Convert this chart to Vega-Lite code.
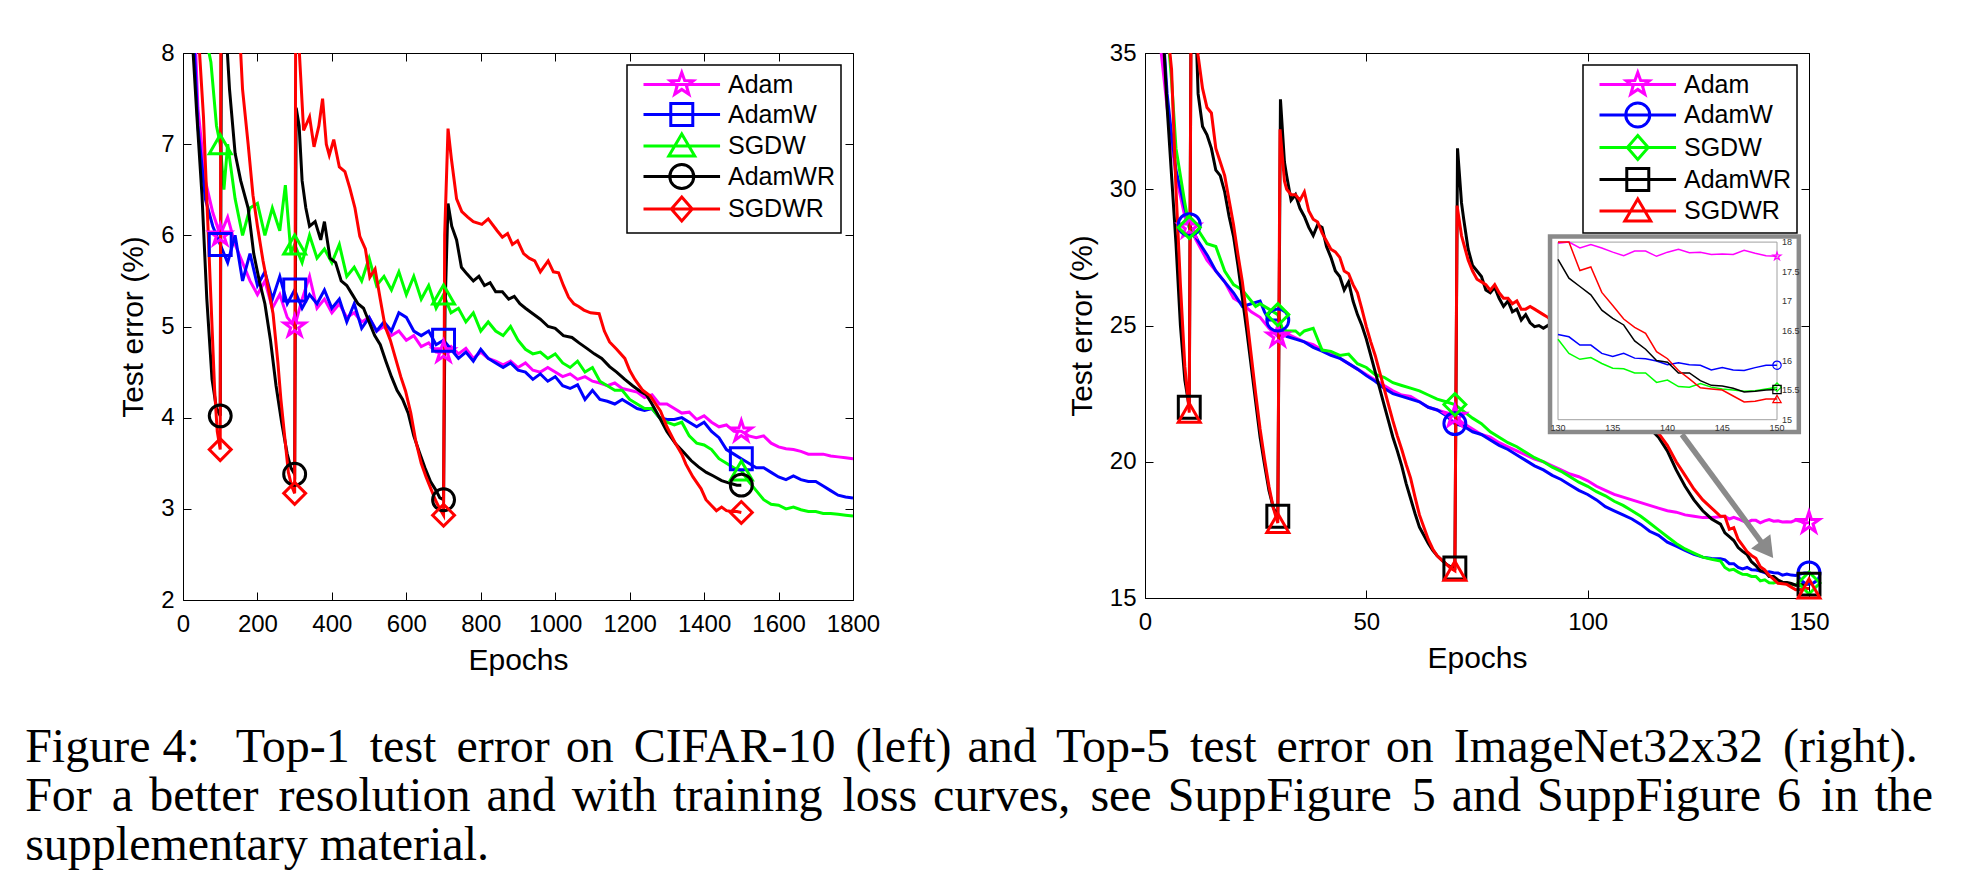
{
 "$schema": "https://vega.github.io/schema/vega-lite/v6.json",
 "background": "white",
 "padding": {"left": 25, "top": 40, "right": 5, "bottom": 5},
 "autosize": {"type": "pad"},
 "title": {
  "text": ["Figure 4:\u00a0\u00a0\u00a0Top-1\u200a\u200a test\u200a\u200a error\u200a on\u200a\u200a CIFAR-10\u200a\u200a (left)\u200a and\u200a\u200a Top-5\u200a\u200a test\u200a\u200a error\u200a on\u200a\u200a ImageNet32x32\u200a\u200a (right).", "For\u200a\u200a a\u200a better\u200a\u200a resolution\u200a and\u200a with\u200a training\u200a\u200a loss\u200a curves,\u200a\u200a see\u200a SuppFigure\u200a\u200a 5\u200a and\u200a SuppFigure\u200a 6\u200a\u200a in\u200a the", "supplementary material."],
  "orient": "bottom", "anchor": "start", "offset": 48, "dx": -93,
  "font": "Liberation Serif", "fontSize": 48, "fontWeight": "normal", "color": "black", "lineHeight": 49
 },
 "datasets": {
  "cifar": [
{"opt":"Adam","epoch":0,"err":12},{"opt":"Adam","epoch":20,"err":9.5},{"opt":"Adam","epoch":40,"err":7.4},{"opt":"Adam","epoch":60,"err":6.6},{"opt":"Adam","epoch":80,"err":6.25},{"opt":"Adam","epoch":100,"err":6.0},{"opt":"Adam","epoch":120,"err":6.2},{"opt":"Adam","epoch":140,"err":5.9},{"opt":"Adam","epoch":160,"err":5.7},{"opt":"Adam","epoch":180,"err":5.5},{"opt":"Adam","epoch":200,"err":5.35},{"opt":"Adam","epoch":220,"err":5.5},{"opt":"Adam","epoch":240,"err":5.2},{"opt":"Adam","epoch":260,"err":5.35},{"opt":"Adam","epoch":280,"err":5.1},{"opt":"Adam","epoch":300,"err":5.0},{"opt":"Adam","epoch":320,"err":5.3},{"opt":"Adam","epoch":340,"err":5.55},{"opt":"Adam","epoch":360,"err":5.2},{"opt":"Adam","epoch":380,"err":5.3},{"opt":"Adam","epoch":400,"err":5.15},{"opt":"Adam","epoch":420,"err":5.25},{"opt":"Adam","epoch":440,"err":5.1},{"opt":"Adam","epoch":460,"err":5.15},{"opt":"Adam","epoch":480,"err":5.05},{"opt":"Adam","epoch":500,"err":5.1},{"opt":"Adam","epoch":520,"err":4.95},{"opt":"Adam","epoch":540,"err":5.0},{"opt":"Adam","epoch":560,"err":4.9},{"opt":"Adam","epoch":580,"err":4.95},{"opt":"Adam","epoch":600,"err":4.85},{"opt":"Adam","epoch":620,"err":4.9},{"opt":"Adam","epoch":640,"err":4.78},{"opt":"Adam","epoch":660,"err":4.82},{"opt":"Adam","epoch":680,"err":4.72},{"opt":"Adam","epoch":700,"err":4.72},{"opt":"Adam","epoch":720,"err":4.78},{"opt":"Adam","epoch":740,"err":4.7},{"opt":"Adam","epoch":760,"err":4.76},{"opt":"Adam","epoch":780,"err":4.65},{"opt":"Adam","epoch":800,"err":4.72},{"opt":"Adam","epoch":820,"err":4.65},{"opt":"Adam","epoch":840,"err":4.62},{"opt":"Adam","epoch":860,"err":4.58},{"opt":"Adam","epoch":880,"err":4.62},{"opt":"Adam","epoch":900,"err":4.55},{"opt":"Adam","epoch":920,"err":4.6},{"opt":"Adam","epoch":940,"err":4.52},{"opt":"Adam","epoch":960,"err":4.5},{"opt":"Adam","epoch":980,"err":4.55},{"opt":"Adam","epoch":1000,"err":4.5},{"opt":"Adam","epoch":1020,"err":4.45},{"opt":"Adam","epoch":1040,"err":4.48},{"opt":"Adam","epoch":1060,"err":4.42},{"opt":"Adam","epoch":1080,"err":4.45},{"opt":"Adam","epoch":1100,"err":4.4},{"opt":"Adam","epoch":1120,"err":4.38},{"opt":"Adam","epoch":1140,"err":4.35},{"opt":"Adam","epoch":1160,"err":4.38},{"opt":"Adam","epoch":1180,"err":4.32},{"opt":"Adam","epoch":1200,"err":4.3},{"opt":"Adam","epoch":1220,"err":4.28},{"opt":"Adam","epoch":1240,"err":4.22},{"opt":"Adam","epoch":1260,"err":4.25},{"opt":"Adam","epoch":1280,"err":4.15},{"opt":"Adam","epoch":1300,"err":4.15},{"opt":"Adam","epoch":1320,"err":4.1},{"opt":"Adam","epoch":1340,"err":4.05},{"opt":"Adam","epoch":1360,"err":4.06},{"opt":"Adam","epoch":1380,"err":3.98},{"opt":"Adam","epoch":1400,"err":4.02},{"opt":"Adam","epoch":1420,"err":3.95},{"opt":"Adam","epoch":1440,"err":3.9},{"opt":"Adam","epoch":1460,"err":3.92},{"opt":"Adam","epoch":1480,"err":3.85},{"opt":"Adam","epoch":1500,"err":3.85},{"opt":"Adam","epoch":1520,"err":3.8},{"opt":"Adam","epoch":1540,"err":3.78},{"opt":"Adam","epoch":1560,"err":3.8},{"opt":"Adam","epoch":1580,"err":3.72},{"opt":"Adam","epoch":1600,"err":3.68},{"opt":"Adam","epoch":1620,"err":3.66},{"opt":"Adam","epoch":1640,"err":3.65},{"opt":"Adam","epoch":1660,"err":3.63},{"opt":"Adam","epoch":1680,"err":3.6},{"opt":"Adam","epoch":1700,"err":3.6},{"opt":"Adam","epoch":1720,"err":3.6},{"opt":"Adam","epoch":1740,"err":3.58},{"opt":"Adam","epoch":1760,"err":3.57},{"opt":"Adam","epoch":1780,"err":3.56},{"opt":"Adam","epoch":1800,"err":3.55},
{"opt":"AdamW","epoch":0,"err":12},{"opt":"AdamW","epoch":20,"err":9.0},{"opt":"AdamW","epoch":40,"err":7.2},{"opt":"AdamW","epoch":60,"err":6.4},{"opt":"AdamW","epoch":80,"err":6.1},{"opt":"AdamW","epoch":100,"err":5.9},{"opt":"AdamW","epoch":120,"err":5.7},{"opt":"AdamW","epoch":140,"err":6.0},{"opt":"AdamW","epoch":160,"err":5.5},{"opt":"AdamW","epoch":180,"err":5.8},{"opt":"AdamW","epoch":200,"err":5.45},{"opt":"AdamW","epoch":220,"err":5.6},{"opt":"AdamW","epoch":240,"err":5.3},{"opt":"AdamW","epoch":260,"err":5.55},{"opt":"AdamW","epoch":280,"err":5.25},{"opt":"AdamW","epoch":300,"err":5.4},{"opt":"AdamW","epoch":320,"err":5.2},{"opt":"AdamW","epoch":340,"err":5.35},{"opt":"AdamW","epoch":360,"err":5.25},{"opt":"AdamW","epoch":380,"err":5.4},{"opt":"AdamW","epoch":400,"err":5.2},{"opt":"AdamW","epoch":420,"err":5.3},{"opt":"AdamW","epoch":440,"err":5.05},{"opt":"AdamW","epoch":460,"err":5.25},{"opt":"AdamW","epoch":480,"err":4.98},{"opt":"AdamW","epoch":500,"err":5.1},{"opt":"AdamW","epoch":520,"err":4.95},{"opt":"AdamW","epoch":540,"err":5.05},{"opt":"AdamW","epoch":560,"err":4.95},{"opt":"AdamW","epoch":580,"err":5.15},{"opt":"AdamW","epoch":600,"err":5.1},{"opt":"AdamW","epoch":620,"err":4.95},{"opt":"AdamW","epoch":640,"err":4.9},{"opt":"AdamW","epoch":660,"err":4.95},{"opt":"AdamW","epoch":680,"err":4.8},{"opt":"AdamW","epoch":700,"err":4.85},{"opt":"AdamW","epoch":720,"err":4.75},{"opt":"AdamW","epoch":740,"err":4.65},{"opt":"AdamW","epoch":760,"err":4.72},{"opt":"AdamW","epoch":780,"err":4.62},{"opt":"AdamW","epoch":800,"err":4.75},{"opt":"AdamW","epoch":820,"err":4.65},{"opt":"AdamW","epoch":840,"err":4.6},{"opt":"AdamW","epoch":860,"err":4.55},{"opt":"AdamW","epoch":880,"err":4.6},{"opt":"AdamW","epoch":900,"err":4.52},{"opt":"AdamW","epoch":920,"err":4.5},{"opt":"AdamW","epoch":940,"err":4.42},{"opt":"AdamW","epoch":960,"err":4.48},{"opt":"AdamW","epoch":980,"err":4.4},{"opt":"AdamW","epoch":1000,"err":4.45},{"opt":"AdamW","epoch":1020,"err":4.35},{"opt":"AdamW","epoch":1040,"err":4.32},{"opt":"AdamW","epoch":1060,"err":4.36},{"opt":"AdamW","epoch":1080,"err":4.2},{"opt":"AdamW","epoch":1100,"err":4.3},{"opt":"AdamW","epoch":1120,"err":4.2},{"opt":"AdamW","epoch":1140,"err":4.18},{"opt":"AdamW","epoch":1160,"err":4.15},{"opt":"AdamW","epoch":1180,"err":4.2},{"opt":"AdamW","epoch":1200,"err":4.15},{"opt":"AdamW","epoch":1220,"err":4.1},{"opt":"AdamW","epoch":1240,"err":4.08},{"opt":"AdamW","epoch":1260,"err":4.1},{"opt":"AdamW","epoch":1280,"err":4.0},{"opt":"AdamW","epoch":1300,"err":3.98},{"opt":"AdamW","epoch":1320,"err":3.98},{"opt":"AdamW","epoch":1340,"err":4.0},{"opt":"AdamW","epoch":1360,"err":3.95},{"opt":"AdamW","epoch":1380,"err":3.9},{"opt":"AdamW","epoch":1400,"err":3.95},{"opt":"AdamW","epoch":1420,"err":3.85},{"opt":"AdamW","epoch":1440,"err":3.78},{"opt":"AdamW","epoch":1460,"err":3.65},{"opt":"AdamW","epoch":1480,"err":3.6},{"opt":"AdamW","epoch":1500,"err":3.55},{"opt":"AdamW","epoch":1520,"err":3.5},{"opt":"AdamW","epoch":1540,"err":3.45},{"opt":"AdamW","epoch":1560,"err":3.45},{"opt":"AdamW","epoch":1580,"err":3.4},{"opt":"AdamW","epoch":1600,"err":3.35},{"opt":"AdamW","epoch":1620,"err":3.32},{"opt":"AdamW","epoch":1640,"err":3.36},{"opt":"AdamW","epoch":1660,"err":3.32},{"opt":"AdamW","epoch":1680,"err":3.3},{"opt":"AdamW","epoch":1700,"err":3.3},{"opt":"AdamW","epoch":1720,"err":3.25},{"opt":"AdamW","epoch":1740,"err":3.2},{"opt":"AdamW","epoch":1760,"err":3.15},{"opt":"AdamW","epoch":1780,"err":3.13},{"opt":"AdamW","epoch":1800,"err":3.12},
{"opt":"SGDW","epoch":0,"err":12},{"opt":"SGDW","epoch":40,"err":9.5},{"opt":"SGDW","epoch":60,"err":8.2},{"opt":"SGDW","epoch":75,"err":7.9},{"opt":"SGDW","epoch":90,"err":7.2},{"opt":"SGDW","epoch":100,"err":7.0},{"opt":"SGDW","epoch":110,"err":6.5},{"opt":"SGDW","epoch":120,"err":7.0},{"opt":"SGDW","epoch":140,"err":6.4},{"opt":"SGDW","epoch":160,"err":6.0},{"opt":"SGDW","epoch":180,"err":6.3},{"opt":"SGDW","epoch":200,"err":6.35},{"opt":"SGDW","epoch":220,"err":6.0},{"opt":"SGDW","epoch":240,"err":6.3},{"opt":"SGDW","epoch":260,"err":6.05},{"opt":"SGDW","epoch":275,"err":6.55},{"opt":"SGDW","epoch":290,"err":5.8},{"opt":"SGDW","epoch":300,"err":5.9},{"opt":"SGDW","epoch":320,"err":5.7},{"opt":"SGDW","epoch":340,"err":6.0},{"opt":"SGDW","epoch":360,"err":5.75},{"opt":"SGDW","epoch":380,"err":5.85},{"opt":"SGDW","epoch":400,"err":5.7},{"opt":"SGDW","epoch":420,"err":5.9},{"opt":"SGDW","epoch":440,"err":5.55},{"opt":"SGDW","epoch":460,"err":5.65},{"opt":"SGDW","epoch":480,"err":5.5},{"opt":"SGDW","epoch":500,"err":5.75},{"opt":"SGDW","epoch":520,"err":5.45},{"opt":"SGDW","epoch":540,"err":5.55},{"opt":"SGDW","epoch":560,"err":5.4},{"opt":"SGDW","epoch":580,"err":5.6},{"opt":"SGDW","epoch":600,"err":5.35},{"opt":"SGDW","epoch":620,"err":5.55},{"opt":"SGDW","epoch":640,"err":5.3},{"opt":"SGDW","epoch":660,"err":5.45},{"opt":"SGDW","epoch":680,"err":5.2},{"opt":"SGDW","epoch":700,"err":5.35},{"opt":"SGDW","epoch":720,"err":5.15},{"opt":"SGDW","epoch":740,"err":5.2},{"opt":"SGDW","epoch":760,"err":5.05},{"opt":"SGDW","epoch":780,"err":5.15},{"opt":"SGDW","epoch":800,"err":4.95},{"opt":"SGDW","epoch":820,"err":5.05},{"opt":"SGDW","epoch":840,"err":4.95},{"opt":"SGDW","epoch":860,"err":4.9},{"opt":"SGDW","epoch":880,"err":5.0},{"opt":"SGDW","epoch":900,"err":4.85},{"opt":"SGDW","epoch":920,"err":4.75},{"opt":"SGDW","epoch":940,"err":4.7},{"opt":"SGDW","epoch":960,"err":4.72},{"opt":"SGDW","epoch":980,"err":4.65},{"opt":"SGDW","epoch":1000,"err":4.7},{"opt":"SGDW","epoch":1020,"err":4.6},{"opt":"SGDW","epoch":1040,"err":4.55},{"opt":"SGDW","epoch":1060,"err":4.62},{"opt":"SGDW","epoch":1080,"err":4.5},{"opt":"SGDW","epoch":1100,"err":4.55},{"opt":"SGDW","epoch":1120,"err":4.4},{"opt":"SGDW","epoch":1140,"err":4.35},{"opt":"SGDW","epoch":1160,"err":4.3},{"opt":"SGDW","epoch":1180,"err":4.3},{"opt":"SGDW","epoch":1200,"err":4.2},{"opt":"SGDW","epoch":1220,"err":4.15},{"opt":"SGDW","epoch":1240,"err":4.1},{"opt":"SGDW","epoch":1260,"err":4.1},{"opt":"SGDW","epoch":1280,"err":4.0},{"opt":"SGDW","epoch":1300,"err":3.95},{"opt":"SGDW","epoch":1320,"err":3.92},{"opt":"SGDW","epoch":1340,"err":3.95},{"opt":"SGDW","epoch":1360,"err":3.8},{"opt":"SGDW","epoch":1380,"err":3.72},{"opt":"SGDW","epoch":1400,"err":3.7},{"opt":"SGDW","epoch":1420,"err":3.65},{"opt":"SGDW","epoch":1440,"err":3.55},{"opt":"SGDW","epoch":1460,"err":3.5},{"opt":"SGDW","epoch":1480,"err":3.45},{"opt":"SGDW","epoch":1500,"err":3.42},{"opt":"SGDW","epoch":1520,"err":3.3},{"opt":"SGDW","epoch":1540,"err":3.2},{"opt":"SGDW","epoch":1560,"err":3.1},{"opt":"SGDW","epoch":1580,"err":3.05},{"opt":"SGDW","epoch":1600,"err":3.04},{"opt":"SGDW","epoch":1620,"err":3.0},{"opt":"SGDW","epoch":1640,"err":3.02},{"opt":"SGDW","epoch":1660,"err":2.99},{"opt":"SGDW","epoch":1680,"err":2.97},{"opt":"SGDW","epoch":1700,"err":2.97},{"opt":"SGDW","epoch":1720,"err":2.95},{"opt":"SGDW","epoch":1740,"err":2.95},{"opt":"SGDW","epoch":1760,"err":2.94},{"opt":"SGDW","epoch":1780,"err":2.93},{"opt":"SGDW","epoch":1800,"err":2.92},
{"opt":"AdamWR","epoch":0,"err":12},{"opt":"AdamWR","epoch":20,"err":8.5},{"opt":"AdamWR","epoch":37,"err":7.33},{"opt":"AdamWR","epoch":51,"err":6.44},{"opt":"AdamWR","epoch":64,"err":5.3},{"opt":"AdamWR","epoch":78,"err":4.42},{"opt":"AdamWR","epoch":90,"err":4.1},{"opt":"AdamWR","epoch":100,"err":4.02},{"opt":"AdamWR","epoch":104,"err":9.5},{"opt":"AdamWR","epoch":115,"err":8.3},{"opt":"AdamWR","epoch":125,"err":7.6},{"opt":"AdamWR","epoch":140,"err":6.9},{"opt":"AdamWR","epoch":155,"err":6.6},{"opt":"AdamWR","epoch":175,"err":6.3},{"opt":"AdamWR","epoch":190,"err":5.8},{"opt":"AdamWR","epoch":205,"err":5.5},{"opt":"AdamWR","epoch":220,"err":5.25},{"opt":"AdamWR","epoch":235,"err":4.85},{"opt":"AdamWR","epoch":250,"err":4.35},{"opt":"AdamWR","epoch":265,"err":3.95},{"opt":"AdamWR","epoch":280,"err":3.6},{"opt":"AdamWR","epoch":290,"err":3.45},{"opt":"AdamWR","epoch":300,"err":3.38},{"opt":"AdamWR","epoch":304,"err":7.4},{"opt":"AdamWR","epoch":312,"err":7.2},{"opt":"AdamWR","epoch":320,"err":6.6},{"opt":"AdamWR","epoch":330,"err":6.3},{"opt":"AdamWR","epoch":340,"err":6.1},{"opt":"AdamWR","epoch":355,"err":6.15},{"opt":"AdamWR","epoch":370,"err":5.95},{"opt":"AdamWR","epoch":380,"err":6.15},{"opt":"AdamWR","epoch":395,"err":5.75},{"opt":"AdamWR","epoch":410,"err":5.7},{"opt":"AdamWR","epoch":425,"err":5.5},{"opt":"AdamWR","epoch":440,"err":5.45},{"opt":"AdamWR","epoch":455,"err":5.35},{"opt":"AdamWR","epoch":470,"err":5.25},{"opt":"AdamWR","epoch":485,"err":5.2},{"opt":"AdamWR","epoch":500,"err":5.05},{"opt":"AdamWR","epoch":515,"err":4.9},{"opt":"AdamWR","epoch":530,"err":4.8},{"opt":"AdamWR","epoch":545,"err":4.62},{"opt":"AdamWR","epoch":560,"err":4.45},{"opt":"AdamWR","epoch":575,"err":4.3},{"opt":"AdamWR","epoch":590,"err":4.2},{"opt":"AdamWR","epoch":605,"err":4.05},{"opt":"AdamWR","epoch":620,"err":3.8},{"opt":"AdamWR","epoch":635,"err":3.62},{"opt":"AdamWR","epoch":650,"err":3.45},{"opt":"AdamWR","epoch":665,"err":3.3},{"opt":"AdamWR","epoch":680,"err":3.2},{"opt":"AdamWR","epoch":690,"err":3.12},{"opt":"AdamWR","epoch":700,"err":3.1},{"opt":"AdamWR","epoch":704,"err":5.2},{"opt":"AdamWR","epoch":712,"err":6.35},{"opt":"AdamWR","epoch":722,"err":6.1},{"opt":"AdamWR","epoch":735,"err":5.95},{"opt":"AdamWR","epoch":748,"err":5.65},{"opt":"AdamWR","epoch":762,"err":5.58},{"opt":"AdamWR","epoch":780,"err":5.5},{"opt":"AdamWR","epoch":795,"err":5.55},{"opt":"AdamWR","epoch":810,"err":5.45},{"opt":"AdamWR","epoch":825,"err":5.48},{"opt":"AdamWR","epoch":840,"err":5.38},{"opt":"AdamWR","epoch":858,"err":5.38},{"opt":"AdamWR","epoch":875,"err":5.3},{"opt":"AdamWR","epoch":890,"err":5.33},{"opt":"AdamWR","epoch":905,"err":5.25},{"opt":"AdamWR","epoch":920,"err":5.2},{"opt":"AdamWR","epoch":940,"err":5.14},{"opt":"AdamWR","epoch":960,"err":5.08},{"opt":"AdamWR","epoch":981,"err":5.0},{"opt":"AdamWR","epoch":1000,"err":4.98},{"opt":"AdamWR","epoch":1022,"err":4.9},{"opt":"AdamWR","epoch":1045,"err":4.88},{"opt":"AdamWR","epoch":1064,"err":4.82},{"opt":"AdamWR","epoch":1085,"err":4.76},{"opt":"AdamWR","epoch":1105,"err":4.7},{"opt":"AdamWR","epoch":1125,"err":4.65},{"opt":"AdamWR","epoch":1146,"err":4.56},{"opt":"AdamWR","epoch":1165,"err":4.5},{"opt":"AdamWR","epoch":1187,"err":4.42},{"opt":"AdamWR","epoch":1208,"err":4.35},{"opt":"AdamWR","epoch":1228,"err":4.29},{"opt":"AdamWR","epoch":1245,"err":4.25},{"opt":"AdamWR","epoch":1260,"err":4.15},{"opt":"AdamWR","epoch":1283,"err":3.98},{"opt":"AdamWR","epoch":1300,"err":3.85},{"opt":"AdamWR","epoch":1324,"err":3.71},{"opt":"AdamWR","epoch":1345,"err":3.62},{"opt":"AdamWR","epoch":1365,"err":3.53},{"opt":"AdamWR","epoch":1385,"err":3.46},{"opt":"AdamWR","epoch":1406,"err":3.4},{"opt":"AdamWR","epoch":1425,"err":3.36},{"opt":"AdamWR","epoch":1447,"err":3.31},{"opt":"AdamWR","epoch":1470,"err":3.28},{"opt":"AdamWR","epoch":1488,"err":3.26},{"opt":"AdamWR","epoch":1500,"err":3.26},
{"opt":"SGDWR","epoch":0,"err":12},{"opt":"SGDWR","epoch":40,"err":8.3},{"opt":"SGDWR","epoch":55,"err":7.3},{"opt":"SGDWR","epoch":65,"err":6.3},{"opt":"SGDWR","epoch":75,"err":5.3},{"opt":"SGDWR","epoch":85,"err":4.3},{"opt":"SGDWR","epoch":92,"err":3.85},{"opt":"SGDWR","epoch":100,"err":3.65},{"opt":"SGDWR","epoch":103,"err":12},{"opt":"SGDWR","epoch":140,"err":9.5},{"opt":"SGDWR","epoch":150,"err":8.4},{"opt":"SGDWR","epoch":160,"err":7.6},{"opt":"SGDWR","epoch":175,"err":7.0},{"opt":"SGDWR","epoch":188,"err":6.44},{"opt":"SGDWR","epoch":200,"err":6.1},{"opt":"SGDWR","epoch":215,"err":5.72},{"opt":"SGDWR","epoch":230,"err":5.4},{"opt":"SGDWR","epoch":242,"err":5.14},{"opt":"SGDWR","epoch":255,"err":4.6},{"opt":"SGDWR","epoch":263,"err":4.2},{"opt":"SGDWR","epoch":273,"err":3.8},{"opt":"SGDWR","epoch":283,"err":3.4},{"opt":"SGDWR","epoch":292,"err":3.25},{"opt":"SGDWR","epoch":300,"err":3.17},{"opt":"SGDWR","epoch":303,"err":9.0},{"opt":"SGDWR","epoch":310,"err":8.2},{"opt":"SGDWR","epoch":324,"err":7.15},{"opt":"SGDWR","epoch":340,"err":7.3},{"opt":"SGDWR","epoch":352,"err":6.97},{"opt":"SGDWR","epoch":365,"err":7.2},{"opt":"SGDWR","epoch":375,"err":7.5},{"opt":"SGDWR","epoch":385,"err":7.0},{"opt":"SGDWR","epoch":393,"err":6.88},{"opt":"SGDWR","epoch":405,"err":7.05},{"opt":"SGDWR","epoch":420,"err":6.75},{"opt":"SGDWR","epoch":435,"err":6.7},{"opt":"SGDWR","epoch":448,"err":6.52},{"opt":"SGDWR","epoch":462,"err":6.3},{"opt":"SGDWR","epoch":475,"err":5.99},{"opt":"SGDWR","epoch":490,"err":5.85},{"opt":"SGDWR","epoch":502,"err":5.54},{"opt":"SGDWR","epoch":516,"err":5.63},{"opt":"SGDWR","epoch":530,"err":5.3},{"opt":"SGDWR","epoch":543,"err":5.0},{"opt":"SGDWR","epoch":557,"err":4.85},{"opt":"SGDWR","epoch":571,"err":4.65},{"opt":"SGDWR","epoch":585,"err":4.45},{"opt":"SGDWR","epoch":598,"err":4.29},{"opt":"SGDWR","epoch":612,"err":4.05},{"opt":"SGDWR","epoch":625,"err":3.75},{"opt":"SGDWR","epoch":640,"err":3.5},{"opt":"SGDWR","epoch":653,"err":3.35},{"opt":"SGDWR","epoch":668,"err":3.2},{"opt":"SGDWR","epoch":680,"err":3.08},{"opt":"SGDWR","epoch":690,"err":3.0},{"opt":"SGDWR","epoch":700,"err":2.93},{"opt":"SGDWR","epoch":703,"err":6.0},{"opt":"SGDWR","epoch":712,"err":7.17},{"opt":"SGDWR","epoch":721,"err":6.84},{"opt":"SGDWR","epoch":735,"err":6.4},{"opt":"SGDWR","epoch":749,"err":6.26},{"opt":"SGDWR","epoch":765,"err":6.2},{"opt":"SGDWR","epoch":780,"err":6.15},{"opt":"SGDWR","epoch":803,"err":6.12},{"opt":"SGDWR","epoch":820,"err":6.18},{"opt":"SGDWR","epoch":844,"err":6.05},{"opt":"SGDWR","epoch":858,"err":5.98},{"opt":"SGDWR","epoch":872,"err":6.02},{"opt":"SGDWR","epoch":885,"err":5.9},{"opt":"SGDWR","epoch":899,"err":5.94},{"opt":"SGDWR","epoch":915,"err":5.8},{"opt":"SGDWR","epoch":930,"err":5.75},{"opt":"SGDWR","epoch":945,"err":5.72},{"opt":"SGDWR","epoch":960,"err":5.6},{"opt":"SGDWR","epoch":981,"err":5.72},{"opt":"SGDWR","epoch":995,"err":5.6},{"opt":"SGDWR","epoch":1009,"err":5.59},{"opt":"SGDWR","epoch":1022,"err":5.45},{"opt":"SGDWR","epoch":1036,"err":5.32},{"opt":"SGDWR","epoch":1050,"err":5.25},{"opt":"SGDWR","epoch":1063,"err":5.22},{"opt":"SGDWR","epoch":1077,"err":5.18},{"opt":"SGDWR","epoch":1095,"err":5.15},{"opt":"SGDWR","epoch":1118,"err":5.14},{"opt":"SGDWR","epoch":1132,"err":4.95},{"opt":"SGDWR","epoch":1146,"err":4.83},{"opt":"SGDWR","epoch":1165,"err":4.75},{"opt":"SGDWR","epoch":1187,"err":4.65},{"opt":"SGDWR","epoch":1200,"err":4.52},{"opt":"SGDWR","epoch":1214,"err":4.42},{"opt":"SGDWR","epoch":1235,"err":4.3},{"opt":"SGDWR","epoch":1255,"err":4.24},{"opt":"SGDWR","epoch":1270,"err":4.15},{"opt":"SGDWR","epoch":1283,"err":4.07},{"opt":"SGDWR","epoch":1300,"err":3.9},{"opt":"SGDWR","epoch":1324,"err":3.71},{"opt":"SGDWR","epoch":1340,"err":3.6},{"opt":"SGDWR","epoch":1351,"err":3.49},{"opt":"SGDWR","epoch":1370,"err":3.35},{"opt":"SGDWR","epoch":1392,"err":3.22},{"opt":"SGDWR","epoch":1405,"err":3.1},{"opt":"SGDWR","epoch":1419,"err":3.04},{"opt":"SGDWR","epoch":1433,"err":2.98},{"opt":"SGDWR","epoch":1447,"err":3.02},{"opt":"SGDWR","epoch":1460,"err":2.98},{"opt":"SGDWR","epoch":1474,"err":2.97},{"opt":"SGDWR","epoch":1488,"err":2.97},{"opt":"SGDWR","epoch":1500,"err":2.96}
  ],
  "imagenet": [
{"opt":"Adam","epoch":0,"err":45},{"opt":"Adam","epoch":3,"err":36},{"opt":"Adam","epoch":5,"err":33},{"opt":"Adam","epoch":7,"err":30.5},{"opt":"Adam","epoch":9,"err":29},{"opt":"Adam","epoch":10,"err":28.6},{"opt":"Adam","epoch":12,"err":28.0},{"opt":"Adam","epoch":14,"err":27.4},{"opt":"Adam","epoch":16,"err":27.0},{"opt":"Adam","epoch":18,"err":26.6},{"opt":"Adam","epoch":20,"err":26.0},{"opt":"Adam","epoch":22,"err":25.8},{"opt":"Adam","epoch":24,"err":25.5},{"opt":"Adam","epoch":26,"err":25.3},{"opt":"Adam","epoch":28,"err":24.9},{"opt":"Adam","epoch":30,"err":24.6},{"opt":"Adam","epoch":32,"err":24.7},{"opt":"Adam","epoch":34,"err":24.55},{"opt":"Adam","epoch":36,"err":24.4},{"opt":"Adam","epoch":38,"err":24.3},{"opt":"Adam","epoch":40,"err":24.1},{"opt":"Adam","epoch":42,"err":24.0},{"opt":"Adam","epoch":44,"err":23.8},{"opt":"Adam","epoch":46,"err":23.6},{"opt":"Adam","epoch":48,"err":23.4},{"opt":"Adam","epoch":50,"err":23.2},{"opt":"Adam","epoch":52,"err":23.0},{"opt":"Adam","epoch":54,"err":22.8},{"opt":"Adam","epoch":56,"err":22.6},{"opt":"Adam","epoch":58,"err":22.45},{"opt":"Adam","epoch":60,"err":22.4},{"opt":"Adam","epoch":62,"err":22.2},{"opt":"Adam","epoch":64,"err":22.0},{"opt":"Adam","epoch":66,"err":21.9},{"opt":"Adam","epoch":68,"err":21.8},{"opt":"Adam","epoch":70,"err":21.66},{"opt":"Adam","epoch":72,"err":21.4},{"opt":"Adam","epoch":74,"err":21.2},{"opt":"Adam","epoch":76,"err":21.0},{"opt":"Adam","epoch":78,"err":20.9},{"opt":"Adam","epoch":80,"err":20.7},{"opt":"Adam","epoch":82,"err":20.55},{"opt":"Adam","epoch":84,"err":20.4},{"opt":"Adam","epoch":86,"err":20.25},{"opt":"Adam","epoch":88,"err":20.1},{"opt":"Adam","epoch":90,"err":20.0},{"opt":"Adam","epoch":92,"err":19.85},{"opt":"Adam","epoch":94,"err":19.7},{"opt":"Adam","epoch":96,"err":19.55},{"opt":"Adam","epoch":98,"err":19.45},{"opt":"Adam","epoch":100,"err":19.3},{"opt":"Adam","epoch":102,"err":19.1},{"opt":"Adam","epoch":104,"err":18.95},{"opt":"Adam","epoch":106,"err":18.8},{"opt":"Adam","epoch":108,"err":18.7},{"opt":"Adam","epoch":110,"err":18.6},{"opt":"Adam","epoch":112,"err":18.5},{"opt":"Adam","epoch":114,"err":18.4},{"opt":"Adam","epoch":116,"err":18.3},{"opt":"Adam","epoch":118,"err":18.2},{"opt":"Adam","epoch":120,"err":18.15},{"opt":"Adam","epoch":122,"err":18.05},{"opt":"Adam","epoch":124,"err":18.0},{"opt":"Adam","epoch":126,"err":17.95},{"opt":"Adam","epoch":128,"err":17.95},{"opt":"Adam","epoch":130,"err":17.98},{"opt":"Adam","epoch":131,"err":18.0},{"opt":"Adam","epoch":132,"err":17.9},{"opt":"Adam","epoch":133,"err":17.96},{"opt":"Adam","epoch":134,"err":17.9},{"opt":"Adam","epoch":135,"err":17.83},{"opt":"Adam","epoch":136,"err":17.77},{"opt":"Adam","epoch":137,"err":17.85},{"opt":"Adam","epoch":138,"err":17.85},{"opt":"Adam","epoch":139,"err":17.76},{"opt":"Adam","epoch":140,"err":17.83},{"opt":"Adam","epoch":141,"err":17.88},{"opt":"Adam","epoch":142,"err":17.82},{"opt":"Adam","epoch":143,"err":17.83},{"opt":"Adam","epoch":144,"err":17.79},{"opt":"Adam","epoch":145,"err":17.8},{"opt":"Adam","epoch":146,"err":17.79},{"opt":"Adam","epoch":147,"err":17.86},{"opt":"Adam","epoch":148,"err":17.81},{"opt":"Adam","epoch":149,"err":17.77},{"opt":"Adam","epoch":150,"err":17.76},
{"opt":"AdamW","epoch":0,"err":45},{"opt":"AdamW","epoch":4,"err":36},{"opt":"AdamW","epoch":5,"err":33.5},{"opt":"AdamW","epoch":6,"err":32},{"opt":"AdamW","epoch":7,"err":30.7},{"opt":"AdamW","epoch":8,"err":30},{"opt":"AdamW","epoch":9,"err":29.3},{"opt":"AdamW","epoch":10,"err":28.7},{"opt":"AdamW","epoch":12,"err":28.1},{"opt":"AdamW","epoch":14,"err":27.6},{"opt":"AdamW","epoch":16,"err":27.0},{"opt":"AdamW","epoch":18,"err":26.6},{"opt":"AdamW","epoch":20,"err":26.2},{"opt":"AdamW","epoch":22,"err":25.7},{"opt":"AdamW","epoch":24,"err":25.8},{"opt":"AdamW","epoch":26,"err":25.9},{"opt":"AdamW","epoch":27,"err":25.5},{"opt":"AdamW","epoch":28,"err":25.2},{"opt":"AdamW","epoch":30,"err":25.2},{"opt":"AdamW","epoch":31,"err":24.8},{"opt":"AdamW","epoch":32,"err":24.6},{"opt":"AdamW","epoch":34,"err":24.5},{"opt":"AdamW","epoch":36,"err":24.4},{"opt":"AdamW","epoch":38,"err":24.2},{"opt":"AdamW","epoch":40,"err":24.06},{"opt":"AdamW","epoch":42,"err":23.9},{"opt":"AdamW","epoch":44,"err":23.8},{"opt":"AdamW","epoch":46,"err":23.6},{"opt":"AdamW","epoch":48,"err":23.4},{"opt":"AdamW","epoch":50,"err":23.16},{"opt":"AdamW","epoch":52,"err":22.95},{"opt":"AdamW","epoch":54,"err":22.7},{"opt":"AdamW","epoch":56,"err":22.5},{"opt":"AdamW","epoch":58,"err":22.4},{"opt":"AdamW","epoch":60,"err":22.3},{"opt":"AdamW","epoch":62,"err":22.2},{"opt":"AdamW","epoch":64,"err":22.0},{"opt":"AdamW","epoch":66,"err":21.9},{"opt":"AdamW","epoch":68,"err":21.7},{"opt":"AdamW","epoch":70,"err":21.4},{"opt":"AdamW","epoch":72,"err":21.3},{"opt":"AdamW","epoch":74,"err":21.1},{"opt":"AdamW","epoch":76,"err":21.0},{"opt":"AdamW","epoch":78,"err":20.8},{"opt":"AdamW","epoch":80,"err":20.6},{"opt":"AdamW","epoch":82,"err":20.45},{"opt":"AdamW","epoch":84,"err":20.25},{"opt":"AdamW","epoch":86,"err":20.05},{"opt":"AdamW","epoch":88,"err":19.85},{"opt":"AdamW","epoch":90,"err":19.7},{"opt":"AdamW","epoch":92,"err":19.5},{"opt":"AdamW","epoch":94,"err":19.35},{"opt":"AdamW","epoch":96,"err":19.15},{"opt":"AdamW","epoch":98,"err":18.95},{"opt":"AdamW","epoch":100,"err":18.8},{"opt":"AdamW","epoch":102,"err":18.6},{"opt":"AdamW","epoch":104,"err":18.35},{"opt":"AdamW","epoch":106,"err":18.2},{"opt":"AdamW","epoch":108,"err":18.05},{"opt":"AdamW","epoch":110,"err":17.9},{"opt":"AdamW","epoch":112,"err":17.7},{"opt":"AdamW","epoch":114,"err":17.45},{"opt":"AdamW","epoch":116,"err":17.3},{"opt":"AdamW","epoch":118,"err":17.05},{"opt":"AdamW","epoch":120,"err":16.9},{"opt":"AdamW","epoch":122,"err":16.75},{"opt":"AdamW","epoch":124,"err":16.6},{"opt":"AdamW","epoch":126,"err":16.5},{"opt":"AdamW","epoch":128,"err":16.45},{"opt":"AdamW","epoch":130,"err":16.44},{"opt":"AdamW","epoch":131,"err":16.4},{"opt":"AdamW","epoch":132,"err":16.26},{"opt":"AdamW","epoch":133,"err":16.26},{"opt":"AdamW","epoch":134,"err":16.12},{"opt":"AdamW","epoch":135,"err":16.07},{"opt":"AdamW","epoch":136,"err":16.12},{"opt":"AdamW","epoch":137,"err":16.04},{"opt":"AdamW","epoch":138,"err":16.03},{"opt":"AdamW","epoch":139,"err":15.99},{"opt":"AdamW","epoch":140,"err":15.93},{"opt":"AdamW","epoch":141,"err":15.96},{"opt":"AdamW","epoch":142,"err":15.93},{"opt":"AdamW","epoch":143,"err":15.92},{"opt":"AdamW","epoch":144,"err":15.84},{"opt":"AdamW","epoch":145,"err":15.88},{"opt":"AdamW","epoch":146,"err":15.84},{"opt":"AdamW","epoch":147,"err":15.83},{"opt":"AdamW","epoch":148,"err":15.88},{"opt":"AdamW","epoch":149,"err":15.92},{"opt":"AdamW","epoch":150,"err":15.92},
{"opt":"SGDW","epoch":0,"err":45},{"opt":"SGDW","epoch":5,"err":36},{"opt":"SGDW","epoch":6,"err":34},{"opt":"SGDW","epoch":7,"err":31.5},{"opt":"SGDW","epoch":8,"err":30.5},{"opt":"SGDW","epoch":9,"err":29.5},{"opt":"SGDW","epoch":10,"err":28.6},{"opt":"SGDW","epoch":11,"err":28.3},{"opt":"SGDW","epoch":12,"err":28.5},{"opt":"SGDW","epoch":14,"err":28.0},{"opt":"SGDW","epoch":16,"err":27.9},{"opt":"SGDW","epoch":18,"err":27.0},{"opt":"SGDW","epoch":20,"err":26.5},{"opt":"SGDW","epoch":22,"err":26.3},{"opt":"SGDW","epoch":24,"err":25.9},{"opt":"SGDW","epoch":25,"err":25.7},{"opt":"SGDW","epoch":26,"err":25.8},{"opt":"SGDW","epoch":28,"err":25.6},{"opt":"SGDW","epoch":30,"err":25.4},{"opt":"SGDW","epoch":31,"err":24.9},{"opt":"SGDW","epoch":32,"err":24.8},{"opt":"SGDW","epoch":34,"err":24.8},{"opt":"SGDW","epoch":35,"err":24.66},{"opt":"SGDW","epoch":36,"err":24.8},{"opt":"SGDW","epoch":38,"err":24.9},{"opt":"SGDW","epoch":40,"err":24.1},{"opt":"SGDW","epoch":42,"err":24.05},{"opt":"SGDW","epoch":44,"err":23.9},{"opt":"SGDW","epoch":46,"err":23.95},{"opt":"SGDW","epoch":48,"err":23.6},{"opt":"SGDW","epoch":50,"err":23.46},{"opt":"SGDW","epoch":52,"err":23.2},{"opt":"SGDW","epoch":54,"err":23.1},{"opt":"SGDW","epoch":56,"err":22.9},{"opt":"SGDW","epoch":58,"err":22.8},{"opt":"SGDW","epoch":60,"err":22.7},{"opt":"SGDW","epoch":62,"err":22.6},{"opt":"SGDW","epoch":64,"err":22.45},{"opt":"SGDW","epoch":66,"err":22.3},{"opt":"SGDW","epoch":68,"err":22.2},{"opt":"SGDW","epoch":70,"err":22.1},{"opt":"SGDW","epoch":72,"err":21.85},{"opt":"SGDW","epoch":74,"err":21.6},{"opt":"SGDW","epoch":76,"err":21.4},{"opt":"SGDW","epoch":78,"err":21.1},{"opt":"SGDW","epoch":80,"err":20.9},{"opt":"SGDW","epoch":82,"err":20.7},{"opt":"SGDW","epoch":84,"err":20.55},{"opt":"SGDW","epoch":86,"err":20.35},{"opt":"SGDW","epoch":88,"err":20.15},{"opt":"SGDW","epoch":90,"err":20.0},{"opt":"SGDW","epoch":92,"err":19.8},{"opt":"SGDW","epoch":94,"err":19.65},{"opt":"SGDW","epoch":96,"err":19.45},{"opt":"SGDW","epoch":98,"err":19.25},{"opt":"SGDW","epoch":100,"err":19.1},{"opt":"SGDW","epoch":102,"err":18.9},{"opt":"SGDW","epoch":104,"err":18.75},{"opt":"SGDW","epoch":106,"err":18.55},{"opt":"SGDW","epoch":108,"err":18.4},{"opt":"SGDW","epoch":110,"err":18.2},{"opt":"SGDW","epoch":112,"err":18.0},{"opt":"SGDW","epoch":114,"err":17.75},{"opt":"SGDW","epoch":116,"err":17.5},{"opt":"SGDW","epoch":118,"err":17.25},{"opt":"SGDW","epoch":120,"err":17.0},{"opt":"SGDW","epoch":122,"err":16.8},{"opt":"SGDW","epoch":124,"err":16.65},{"opt":"SGDW","epoch":126,"err":16.5},{"opt":"SGDW","epoch":128,"err":16.42},{"opt":"SGDW","epoch":130,"err":16.36},{"opt":"SGDW","epoch":131,"err":16.12},{"opt":"SGDW","epoch":132,"err":16.02},{"opt":"SGDW","epoch":133,"err":16.05},{"opt":"SGDW","epoch":134,"err":15.95},{"opt":"SGDW","epoch":135,"err":15.87},{"opt":"SGDW","epoch":136,"err":15.86},{"opt":"SGDW","epoch":137,"err":15.79},{"opt":"SGDW","epoch":138,"err":15.79},{"opt":"SGDW","epoch":139,"err":15.63},{"opt":"SGDW","epoch":140,"err":15.67},{"opt":"SGDW","epoch":141,"err":15.56},{"opt":"SGDW","epoch":142,"err":15.55},{"opt":"SGDW","epoch":143,"err":15.61},{"opt":"SGDW","epoch":144,"err":15.55},{"opt":"SGDW","epoch":145,"err":15.52},{"opt":"SGDW","epoch":146,"err":15.5},{"opt":"SGDW","epoch":147,"err":15.48},{"opt":"SGDW","epoch":148,"err":15.49},{"opt":"SGDW","epoch":149,"err":15.52},{"opt":"SGDW","epoch":150,"err":15.55},
{"opt":"AdamWR","epoch":0,"err":48},{"opt":"AdamWR","epoch":4,"err":36},{"opt":"AdamWR","epoch":5,"err":33},{"opt":"AdamWR","epoch":6,"err":30.5},{"opt":"AdamWR","epoch":7,"err":28},{"opt":"AdamWR","epoch":8,"err":25},{"opt":"AdamWR","epoch":9,"err":23},{"opt":"AdamWR","epoch":10,"err":22.0},{"opt":"AdamWR","epoch":10.5,"err":40},{"opt":"AdamWR","epoch":11.5,"err":36},{"opt":"AdamWR","epoch":12,"err":33.5},{"opt":"AdamWR","epoch":13,"err":32.3},{"opt":"AdamWR","epoch":14,"err":32.0},{"opt":"AdamWR","epoch":15,"err":31.5},{"opt":"AdamWR","epoch":16,"err":30.7},{"opt":"AdamWR","epoch":17,"err":30.5},{"opt":"AdamWR","epoch":18,"err":29.9},{"opt":"AdamWR","epoch":19,"err":29.0},{"opt":"AdamWR","epoch":20,"err":28.27},{"opt":"AdamWR","epoch":21,"err":27.2},{"opt":"AdamWR","epoch":22,"err":26.0},{"opt":"AdamWR","epoch":23,"err":24.8},{"opt":"AdamWR","epoch":24,"err":23.5},{"opt":"AdamWR","epoch":25,"err":22.2},{"opt":"AdamWR","epoch":26,"err":20.9},{"opt":"AdamWR","epoch":27,"err":19.9},{"opt":"AdamWR","epoch":28,"err":18.95},{"opt":"AdamWR","epoch":29,"err":18.3},{"opt":"AdamWR","epoch":30,"err":18.0},{"opt":"AdamWR","epoch":30.6,"err":33.3},{"opt":"AdamWR","epoch":31.5,"err":31.0},{"opt":"AdamWR","epoch":32,"err":30.5},{"opt":"AdamWR","epoch":33,"err":29.6},{"opt":"AdamWR","epoch":34,"err":29.8},{"opt":"AdamWR","epoch":35,"err":29.3},{"opt":"AdamWR","epoch":36,"err":29.0},{"opt":"AdamWR","epoch":37,"err":28.6},{"opt":"AdamWR","epoch":38,"err":28.3},{"opt":"AdamWR","epoch":39,"err":28.7},{"opt":"AdamWR","epoch":40,"err":28.6},{"opt":"AdamWR","epoch":41,"err":27.9},{"opt":"AdamWR","epoch":42,"err":27.5},{"opt":"AdamWR","epoch":43,"err":27.0},{"opt":"AdamWR","epoch":44,"err":26.8},{"opt":"AdamWR","epoch":45,"err":26.3},{"opt":"AdamWR","epoch":46,"err":26.6},{"opt":"AdamWR","epoch":47,"err":25.9},{"opt":"AdamWR","epoch":48,"err":25.4},{"opt":"AdamWR","epoch":49,"err":25.0},{"opt":"AdamWR","epoch":50,"err":24.5},{"opt":"AdamWR","epoch":51,"err":23.9},{"opt":"AdamWR","epoch":52,"err":23.3},{"opt":"AdamWR","epoch":53,"err":22.7},{"opt":"AdamWR","epoch":54,"err":22.1},{"opt":"AdamWR","epoch":55,"err":21.5},{"opt":"AdamWR","epoch":56,"err":20.9},{"opt":"AdamWR","epoch":57,"err":20.4},{"opt":"AdamWR","epoch":58,"err":19.85},{"opt":"AdamWR","epoch":59,"err":19.2},{"opt":"AdamWR","epoch":60,"err":18.65},{"opt":"AdamWR","epoch":61,"err":18.1},{"opt":"AdamWR","epoch":62,"err":17.6},{"opt":"AdamWR","epoch":63,"err":17.3},{"opt":"AdamWR","epoch":64,"err":17.0},{"opt":"AdamWR","epoch":65,"err":16.75},{"opt":"AdamWR","epoch":66,"err":16.55},{"opt":"AdamWR","epoch":67,"err":16.4},{"opt":"AdamWR","epoch":68,"err":16.25},{"opt":"AdamWR","epoch":69,"err":16.15},{"opt":"AdamWR","epoch":70,"err":16.1},{"opt":"AdamWR","epoch":70.6,"err":31.5},{"opt":"AdamWR","epoch":71.5,"err":29.5},{"opt":"AdamWR","epoch":72,"err":28.9},{"opt":"AdamWR","epoch":73,"err":27.8},{"opt":"AdamWR","epoch":74,"err":27.2},{"opt":"AdamWR","epoch":75,"err":27.0},{"opt":"AdamWR","epoch":76,"err":26.8},{"opt":"AdamWR","epoch":77,"err":26.3},{"opt":"AdamWR","epoch":78,"err":26.2},{"opt":"AdamWR","epoch":79,"err":26.4},{"opt":"AdamWR","epoch":80,"err":26.0},{"opt":"AdamWR","epoch":81,"err":25.7},{"opt":"AdamWR","epoch":82,"err":25.9},{"opt":"AdamWR","epoch":83,"err":25.5},{"opt":"AdamWR","epoch":84,"err":25.6},{"opt":"AdamWR","epoch":85,"err":25.2},{"opt":"AdamWR","epoch":86,"err":25.4},{"opt":"AdamWR","epoch":87,"err":25.1},{"opt":"AdamWR","epoch":88,"err":24.96},{"opt":"AdamWR","epoch":89,"err":25.0},{"opt":"AdamWR","epoch":90,"err":24.9},{"opt":"AdamWR","epoch":91,"err":25.0},{"opt":"AdamWR","epoch":116,"err":20.9},{"opt":"AdamWR","epoch":118,"err":20.4},{"opt":"AdamWR","epoch":120,"err":19.7},{"opt":"AdamWR","epoch":122,"err":19.1},{"opt":"AdamWR","epoch":124,"err":18.6},{"opt":"AdamWR","epoch":126,"err":18.2},{"opt":"AdamWR","epoch":128,"err":17.9},{"opt":"AdamWR","epoch":130,"err":17.71},{"opt":"AdamWR","epoch":131,"err":17.39},{"opt":"AdamWR","epoch":132,"err":17.25},{"opt":"AdamWR","epoch":133,"err":17.11},{"opt":"AdamWR","epoch":134,"err":16.85},{"opt":"AdamWR","epoch":135,"err":16.71},{"opt":"AdamWR","epoch":136,"err":16.6},{"opt":"AdamWR","epoch":137,"err":16.33},{"opt":"AdamWR","epoch":138,"err":16.19},{"opt":"AdamWR","epoch":139,"err":16.0},{"opt":"AdamWR","epoch":140,"err":15.97},{"opt":"AdamWR","epoch":141,"err":15.79},{"opt":"AdamWR","epoch":142,"err":15.79},{"opt":"AdamWR","epoch":143,"err":15.66},{"opt":"AdamWR","epoch":144,"err":15.58},{"opt":"AdamWR","epoch":145,"err":15.57},{"opt":"AdamWR","epoch":146,"err":15.53},{"opt":"AdamWR","epoch":147,"err":15.47},{"opt":"AdamWR","epoch":148,"err":15.48},{"opt":"AdamWR","epoch":149,"err":15.5},{"opt":"AdamWR","epoch":150,"err":15.51},
{"opt":"SGDWR","epoch":0,"err":50},{"opt":"SGDWR","epoch":5,"err":36},{"opt":"SGDWR","epoch":6,"err":34.4},{"opt":"SGDWR","epoch":7,"err":30},{"opt":"SGDWR","epoch":8,"err":26.5},{"opt":"SGDWR","epoch":9,"err":23.5},{"opt":"SGDWR","epoch":10,"err":21.8},{"opt":"SGDWR","epoch":10.5,"err":40},{"opt":"SGDWR","epoch":11.5,"err":36},{"opt":"SGDWR","epoch":12,"err":34.9},{"opt":"SGDWR","epoch":13,"err":33.7},{"opt":"SGDWR","epoch":14,"err":33.0},{"opt":"SGDWR","epoch":15,"err":32.8},{"opt":"SGDWR","epoch":16,"err":31.5},{"opt":"SGDWR","epoch":17,"err":31.0},{"opt":"SGDWR","epoch":18,"err":30.5},{"opt":"SGDWR","epoch":19,"err":29.6},{"opt":"SGDWR","epoch":20,"err":28.7},{"opt":"SGDWR","epoch":21,"err":27.6},{"opt":"SGDWR","epoch":22,"err":26.6},{"opt":"SGDWR","epoch":23,"err":25.3},{"opt":"SGDWR","epoch":24,"err":23.9},{"opt":"SGDWR","epoch":25,"err":22.5},{"opt":"SGDWR","epoch":26,"err":21.2},{"opt":"SGDWR","epoch":27,"err":20.1},{"opt":"SGDWR","epoch":28,"err":19.1},{"opt":"SGDWR","epoch":29,"err":18.3},{"opt":"SGDWR","epoch":30,"err":17.75},{"opt":"SGDWR","epoch":30.5,"err":32.2},{"opt":"SGDWR","epoch":31.5,"err":30.3},{"opt":"SGDWR","epoch":32,"err":30.0},{"opt":"SGDWR","epoch":33,"err":29.8},{"opt":"SGDWR","epoch":34,"err":29.8},{"opt":"SGDWR","epoch":35,"err":29.6},{"opt":"SGDWR","epoch":36,"err":29.9},{"opt":"SGDWR","epoch":37,"err":29.2},{"opt":"SGDWR","epoch":38,"err":28.9},{"opt":"SGDWR","epoch":39,"err":28.8},{"opt":"SGDWR","epoch":40,"err":28.4},{"opt":"SGDWR","epoch":41,"err":28.1},{"opt":"SGDWR","epoch":42,"err":27.8},{"opt":"SGDWR","epoch":43,"err":27.7},{"opt":"SGDWR","epoch":44,"err":27.5},{"opt":"SGDWR","epoch":45,"err":27.0},{"opt":"SGDWR","epoch":46,"err":26.9},{"opt":"SGDWR","epoch":47,"err":26.5},{"opt":"SGDWR","epoch":48,"err":26.2},{"opt":"SGDWR","epoch":49,"err":25.6},{"opt":"SGDWR","epoch":50,"err":24.96},{"opt":"SGDWR","epoch":51,"err":24.4},{"opt":"SGDWR","epoch":52,"err":23.9},{"opt":"SGDWR","epoch":53,"err":23.3},{"opt":"SGDWR","epoch":54,"err":22.7},{"opt":"SGDWR","epoch":55,"err":22.1},{"opt":"SGDWR","epoch":56,"err":21.5},{"opt":"SGDWR","epoch":57,"err":20.95},{"opt":"SGDWR","epoch":58,"err":20.45},{"opt":"SGDWR","epoch":59,"err":19.9},{"opt":"SGDWR","epoch":60,"err":19.4},{"opt":"SGDWR","epoch":61,"err":18.7},{"opt":"SGDWR","epoch":62,"err":18.05},{"opt":"SGDWR","epoch":63,"err":17.6},{"opt":"SGDWR","epoch":64,"err":17.15},{"opt":"SGDWR","epoch":65,"err":16.8},{"opt":"SGDWR","epoch":66,"err":16.55},{"opt":"SGDWR","epoch":67,"err":16.4},{"opt":"SGDWR","epoch":68,"err":16.25},{"opt":"SGDWR","epoch":69,"err":16.1},{"opt":"SGDWR","epoch":70,"err":16.0},{"opt":"SGDWR","epoch":70.5,"err":29.4},{"opt":"SGDWR","epoch":71.5,"err":28.3},{"opt":"SGDWR","epoch":72,"err":28.0},{"opt":"SGDWR","epoch":73,"err":27.4},{"opt":"SGDWR","epoch":74,"err":27.0},{"opt":"SGDWR","epoch":75,"err":26.7},{"opt":"SGDWR","epoch":76,"err":26.6},{"opt":"SGDWR","epoch":77,"err":26.5},{"opt":"SGDWR","epoch":78,"err":26.3},{"opt":"SGDWR","epoch":79,"err":26.5},{"opt":"SGDWR","epoch":80,"err":26.2},{"opt":"SGDWR","epoch":81,"err":26.0},{"opt":"SGDWR","epoch":82,"err":26.0},{"opt":"SGDWR","epoch":83,"err":25.8},{"opt":"SGDWR","epoch":84,"err":25.9},{"opt":"SGDWR","epoch":85,"err":25.6},{"opt":"SGDWR","epoch":86,"err":25.6},{"opt":"SGDWR","epoch":87,"err":25.7},{"opt":"SGDWR","epoch":88,"err":25.6},{"opt":"SGDWR","epoch":89,"err":25.5},{"opt":"SGDWR","epoch":90,"err":25.4},{"opt":"SGDWR","epoch":91,"err":25.3},{"opt":"SGDWR","epoch":116,"err":21.05},{"opt":"SGDWR","epoch":118,"err":20.6},{"opt":"SGDWR","epoch":120,"err":20.0},{"opt":"SGDWR","epoch":122,"err":19.5},{"opt":"SGDWR","epoch":124,"err":19.0},{"opt":"SGDWR","epoch":126,"err":18.6},{"opt":"SGDWR","epoch":128,"err":18.3},{"opt":"SGDWR","epoch":130,"err":18.0},{"opt":"SGDWR","epoch":131,"err":18.0},{"opt":"SGDWR","epoch":132,"err":17.52},{"opt":"SGDWR","epoch":133,"err":17.58},{"opt":"SGDWR","epoch":134,"err":17.15},{"opt":"SGDWR","epoch":135,"err":16.93},{"opt":"SGDWR","epoch":136,"err":16.7},{"opt":"SGDWR","epoch":137,"err":16.56},{"opt":"SGDWR","epoch":138,"err":16.46},{"opt":"SGDWR","epoch":139,"err":16.15},{"opt":"SGDWR","epoch":140,"err":16.03},{"opt":"SGDWR","epoch":141,"err":15.83},{"opt":"SGDWR","epoch":142,"err":15.69},{"opt":"SGDWR","epoch":143,"err":15.54},{"opt":"SGDWR","epoch":144,"err":15.52},{"opt":"SGDWR","epoch":145,"err":15.5},{"opt":"SGDWR","epoch":146,"err":15.4},{"opt":"SGDWR","epoch":147,"err":15.3},{"opt":"SGDWR","epoch":148,"err":15.31},{"opt":"SGDWR","epoch":149,"err":15.35},{"opt":"SGDWR","epoch":150,"err":15.35}
  ]
 },
 "hconcat": [
  {
   "width": 670, "height": 547,
   "data": {"name": "cifar"},
   "layer": [
    {
     "mark": {"type": "line", "clip": true, "strokeWidth": 3},
     "encoding": {
      "x": {"field": "epoch", "type": "quantitative", "scale": {"domain": [0, 1800], "nice": false, "zero": false}, "axis": {"values": [0, 200, 400, 600, 800, 1000, 1200, 1400, 1600, 1800], "format": "d", "title": "Epochs"}},
      "y": {"field": "err", "type": "quantitative", "scale": {"domain": [2, 8], "nice": false, "zero": false}, "axis": {"values": [2, 3, 4, 5, 6, 7, 8], "title": "Test error (%)"}},
      "color": {"field": "opt", "type": "nominal", "scale": {"domain": ["Adam", "AdamW", "SGDW", "AdamWR", "SGDWR"], "range": ["#ff00ff", "#0000ff", "#00ff00", "#000000", "#ff0000"]},
       "legend": {"encode": {"symbols": {"update": {"fill": {"value": "transparent"}, "shape": {"signal": "datum.value === 'Adam' ? 'M-0.25,0H6.13M2.94,-1L3.181,-0.332L3.891,-0.309L3.33,0.127L3.528,0.809L2.94,0.41L2.352,0.809L2.55,0.127L1.989,-0.309L2.699,-0.332Z' : datum.value === 'AdamW' ? 'M-0.25,0H6.13M2.023,-0.917H3.857V0.917H2.023Z' : datum.value === 'SGDW' ? 'M-0.25,0H6.13M2.94,-1L4.02,0.83H1.86Z' : datum.value === 'AdamWR' ? 'M-0.25,0H6.13M1.94,0A1,1,0,1,0,3.94,0A1,1,0,1,0,1.94,0' : 'M-0.25,0H6.13M2.94,-1L3.81,0L2.94,1L2.07,0Z'"}}}, "legend": {"update": {"strokeWidth": {"value": 1.5}}}}}}
     }
    },
    {
     "transform": [{"filter": {"and": [{"field": "opt", "equal": "Adam"}, {"field": "epoch", "oneOf": [100, 300, 700, 1500]}]}}],
     "mark": {"type": "point", "shape": "M0,-1L0.225,-0.309L0.951,-0.309L0.363,0.118L0.588,0.809L0,0.382L-0.588,0.809L-0.363,0.118L-0.951,-0.309L-0.225,-0.309Z", "color": "#ff00ff", "filled": false, "strokeWidth": 3, "size": 480, "opacity": 1},
     "encoding": {
      "x": {"field": "epoch", "type": "quantitative", "axis": {"orient": "top", "labels": false, "title": null, "values": [0, 200, 400, 600, 800, 1000, 1200, 1400, 1600, 1800]}},
      "y": {"field": "err", "type": "quantitative", "axis": {"orient": "right", "labels": false, "title": null, "values": [2, 3, 4, 5, 6, 7, 8]}}
     }
    },
    {
     "transform": [{"filter": {"and": [{"field": "opt", "equal": "AdamW"}, {"field": "epoch", "oneOf": [100, 300, 700, 1500]}]}}],
     "mark": {"type": "point", "shape": "square", "color": "#0000ff", "filled": false, "strokeWidth": 3, "size": 480, "opacity": 1},
     "encoding": {"x": {"field": "epoch", "type": "quantitative", "axis": null}, "y": {"field": "err", "type": "quantitative", "axis": null}}
    },
    {
     "transform": [{"filter": {"and": [{"field": "opt", "equal": "SGDW"}, {"field": "epoch", "oneOf": [100, 300, 700, 1500]}]}}],
     "mark": {"type": "point", "shape": "triangle-up", "color": "#00ff00", "filled": false, "strokeWidth": 3, "size": 480, "opacity": 1},
     "encoding": {"x": {"field": "epoch", "type": "quantitative", "axis": null}, "y": {"field": "err", "type": "quantitative", "axis": null}}
    },
    {
     "transform": [{"filter": {"and": [{"field": "opt", "equal": "AdamWR"}, {"field": "epoch", "oneOf": [100, 300, 700, 1500]}]}}],
     "mark": {"type": "point", "shape": "circle", "color": "#000000", "filled": false, "strokeWidth": 3, "size": 480, "opacity": 1},
     "encoding": {"x": {"field": "epoch", "type": "quantitative", "axis": null}, "y": {"field": "err", "type": "quantitative", "axis": null}}
    },
    {
     "transform": [{"filter": {"and": [{"field": "opt", "equal": "SGDWR"}, {"field": "epoch", "oneOf": [100, 300, 700, 1500]}]}}],
     "mark": {"type": "point", "shape": "diamond", "color": "#ff0000", "filled": false, "strokeWidth": 3, "size": 480, "opacity": 1},
     "encoding": {"x": {"field": "epoch", "type": "quantitative", "axis": null}, "y": {"field": "err", "type": "quantitative", "axis": null}}
    }
   ],
   "resolve": {"axis": {"x": "independent", "y": "independent"}}
  },
  {
   "width": 664, "height": 545,
   "layer": [
    {
     "data": {"name": "imagenet"},
     "layer": [
      {
       "mark": {"type": "line", "clip": true, "strokeWidth": 3},
       "encoding": {
        "x": {"field": "epoch", "type": "quantitative", "scale": {"domain": [0, 150], "nice": false, "zero": false}, "axis": {"values": [0, 50, 100, 150], "title": "Epochs"}},
        "y": {"field": "err", "type": "quantitative", "scale": {"domain": [15, 35], "nice": false, "zero": false}, "axis": {"values": [15, 20, 25, 30, 35], "title": "Test error (%)"}},
        "color": {"field": "opt", "type": "nominal", "scale": {"domain": ["Adam", "AdamW", "SGDW", "AdamWR", "SGDWR"], "range": ["#ff00ff", "#0000ff", "#00ff00", "#000000", "#ff0000"]},
         "legend": {"encode": {"symbols": {"update": {"fill": {"value": "transparent"}, "shape": {"signal": "datum.value === 'Adam' ? 'M-0.25,0H6.13M2.94,-1L3.181,-0.332L3.891,-0.309L3.33,0.127L3.528,0.809L2.94,0.41L2.352,0.809L2.55,0.127L1.989,-0.309L2.699,-0.332Z' : datum.value === 'AdamW' ? 'M-0.25,0H6.13M1.94,0A1,1,0,1,0,3.94,0A1,1,0,1,0,1.94,0' : datum.value === 'SGDW' ? 'M-0.25,0H6.13M2.94,-1L3.81,0L2.94,1L2.07,0Z' : datum.value === 'AdamWR' ? 'M-0.25,0H6.13M2.023,-0.917H3.857V0.917H2.023Z' : 'M-0.25,0H6.13M2.94,-1L4.02,0.83H1.86Z'"}}}, "legend": {"update": {"strokeWidth": {"value": 1.5}}}}}}
       }
      },
      {
       "transform": [{"filter": {"and": [{"field": "opt", "equal": "Adam"}, {"field": "epoch", "oneOf": [10, 30, 70, 150]}]}}],
       "mark": {"type": "point", "shape": "M0,-1L0.225,-0.309L0.951,-0.309L0.363,0.118L0.588,0.809L0,0.382L-0.588,0.809L-0.363,0.118L-0.951,-0.309L-0.225,-0.309Z", "color": "#ff00ff", "filled": false, "strokeWidth": 3, "size": 480, "opacity": 1},
       "encoding": {
        "x": {"field": "epoch", "type": "quantitative", "axis": {"orient": "top", "labels": false, "title": null, "values": [0, 50, 100, 150]}},
        "y": {"field": "err", "type": "quantitative", "axis": {"orient": "right", "labels": false, "title": null, "values": [15, 20, 25, 30, 35]}}
       }
      },
      {
       "transform": [{"filter": {"and": [{"field": "opt", "equal": "AdamW"}, {"field": "epoch", "oneOf": [10, 30, 70, 150]}]}}],
       "mark": {"type": "point", "shape": "circle", "color": "#0000ff", "filled": false, "strokeWidth": 3, "size": 480, "opacity": 1},
       "encoding": {"x": {"field": "epoch", "type": "quantitative", "axis": null}, "y": {"field": "err", "type": "quantitative", "axis": null}}
      },
      {
       "transform": [{"filter": {"and": [{"field": "opt", "equal": "SGDW"}, {"field": "epoch", "oneOf": [10, 30, 70, 150]}]}}],
       "mark": {"type": "point", "shape": "diamond", "color": "#00ff00", "filled": false, "strokeWidth": 3, "size": 480, "opacity": 1},
       "encoding": {"x": {"field": "epoch", "type": "quantitative", "axis": null}, "y": {"field": "err", "type": "quantitative", "axis": null}}
      },
      {
       "transform": [{"filter": {"and": [{"field": "opt", "equal": "AdamWR"}, {"field": "epoch", "oneOf": [10, 30, 70, 150]}]}}],
       "mark": {"type": "point", "shape": "square", "color": "#000000", "filled": false, "strokeWidth": 3, "size": 480, "opacity": 1},
       "encoding": {"x": {"field": "epoch", "type": "quantitative", "axis": null}, "y": {"field": "err", "type": "quantitative", "axis": null}}
      },
      {
       "transform": [{"filter": {"and": [{"field": "opt", "equal": "SGDWR"}, {"field": "epoch", "oneOf": [10, 30, 70, 150]}]}}],
       "mark": {"type": "point", "shape": "triangle-up", "color": "#ff0000", "filled": false, "strokeWidth": 3, "size": 480, "opacity": 1},
       "encoding": {"x": {"field": "epoch", "type": "quantitative", "axis": null}, "y": {"field": "err", "type": "quantitative", "axis": null}}
      },
      {
       "data": {"values": [{}]},
       "mark": {"type": "rect", "fill": "white", "stroke": "#8a8a8a", "strokeWidth": 4.5},
       "encoding": {
        "x": {"datum": 91.5, "type": "quantitative", "axis": null},
        "x2": {"datum": 147.7},
        "y": {"datum": 28.27, "type": "quantitative", "axis": null},
        "y2": {"datum": 21.09}
       }
      },
      {
       "data": {"values": [{}]},
       "mark": {"type": "rule", "stroke": "#8a8a8a", "strokeWidth": 5.5},
       "encoding": {
        "x": {"datum": 121.3, "type": "quantitative", "axis": null},
        "x2": {"datum": 140.5},
        "y": {"datum": 21.0, "type": "quantitative", "axis": null},
        "y2": {"datum": 16.77}
       }
      },
      {
       "data": {"values": [{}]},
       "mark": {"type": "point", "shape": "triangle-down", "filled": true, "color": "#8a8a8a", "size": 576, "angle": 323.3, "opacity": 1},
       "encoding": {
        "x": {"datum": 140.5, "type": "quantitative", "axis": null},
        "y": {"datum": 16.77, "type": "quantitative", "axis": null}
       }
      }
     ],
     "resolve": {"axis": {"x": "independent", "y": "independent"}}
    },
    {
     "layer": [
      {
       "data": {"values": [{}]},
       "mark": {"type": "rect", "fill": null, "fillOpacity": 0, "stroke": "#a0a0a0", "strokeWidth": 1},
       "encoding": {
        "x": {"datum": 130, "type": "quantitative", "scale": {"domain": [130, 150], "range": [413, 632], "nice": false, "zero": false}, "axis": null},
        "x2": {"datum": 150},
        "y": {"datum": 15, "type": "quantitative", "scale": {"domain": [15, 18], "range": [366.7, 189.1], "nice": false, "zero": false}, "axis": null},
        "y2": {"datum": 18}
       }
      },
      {
       "data": {"values": [{"v": 130}, {"v": 135}, {"v": 140}, {"v": 145}, {"v": 150}]},
       "mark": {"type": "text", "font": "Liberation Sans", "fontSize": 9, "baseline": "top", "align": "center", "dy": 4, "color": "#333333"},
       "encoding": {
        "x": {"field": "v", "type": "quantitative", "scale": {"domain": [130, 150], "range": [413, 632], "nice": false, "zero": false}, "axis": null},
        "y": {"datum": 15, "type": "quantitative", "scale": {"domain": [15, 18], "range": [366.7, 189.1], "nice": false, "zero": false}, "axis": null},
        "text": {"field": "v", "type": "quantitative", "format": "d"}
       }
      },
      {
       "data": {"values": [{"v": 15}, {"v": 15.5}, {"v": 16}, {"v": 16.5}, {"v": 17}, {"v": 17.5}, {"v": 18}]},
       "mark": {"type": "text", "font": "Liberation Sans", "fontSize": 9, "baseline": "middle", "align": "left", "dx": 5, "color": "#333333"},
       "encoding": {
        "x": {"datum": 150, "type": "quantitative", "axis": null},
        "y": {"field": "v", "type": "quantitative", "axis": null},
        "text": {"field": "v", "type": "quantitative", "format": "~g"}
       }
      },
      {
       "data": {"name": "imagenet"},
       "transform": [{"filter": "datum.epoch >= 130"}],
       "mark": {"type": "line", "strokeWidth": 1.5},
       "encoding": {
        "x": {"field": "epoch", "type": "quantitative", "scale": {"domain": [130, 150], "range": [413, 632], "nice": false, "zero": false}, "axis": null},
        "y": {"field": "err", "type": "quantitative", "scale": {"domain": [15, 18], "range": [366.7, 189.1], "nice": false, "zero": false}, "axis": null},
        "color": {"field": "opt", "type": "nominal", "legend": null}
       }
      },
      {
       "data": {"name": "imagenet"},
       "transform": [{"filter": {"and": [{"field": "opt", "equal": "Adam"}, {"field": "epoch", "equal": 150}]}}],
       "mark": {"type": "point", "shape": "M0,-1L0.225,-0.309L0.951,-0.309L0.363,0.118L0.588,0.809L0,0.382L-0.588,0.809L-0.363,0.118L-0.951,-0.309L-0.225,-0.309Z", "color": "#ff00ff", "filled": false, "strokeWidth": 1.2, "size": 70, "opacity": 1},
       "encoding": {"x": {"field": "epoch", "type": "quantitative", "axis": null}, "y": {"field": "err", "type": "quantitative", "axis": null}}
      },
      {
       "data": {"name": "imagenet"},
       "transform": [{"filter": {"and": [{"field": "opt", "equal": "AdamW"}, {"field": "epoch", "equal": 150}]}}],
       "mark": {"type": "point", "shape": "circle", "color": "#0000ff", "filled": false, "strokeWidth": 1.2, "size": 70, "opacity": 1},
       "encoding": {"x": {"field": "epoch", "type": "quantitative", "axis": null}, "y": {"field": "err", "type": "quantitative", "axis": null}}
      },
      {
       "data": {"name": "imagenet"},
       "transform": [{"filter": {"and": [{"field": "opt", "equal": "SGDW"}, {"field": "epoch", "equal": 150}]}}],
       "mark": {"type": "point", "shape": "diamond", "color": "#00ff00", "filled": false, "strokeWidth": 1.2, "size": 70, "opacity": 1},
       "encoding": {"x": {"field": "epoch", "type": "quantitative", "axis": null}, "y": {"field": "err", "type": "quantitative", "axis": null}}
      },
      {
       "data": {"name": "imagenet"},
       "transform": [{"filter": {"and": [{"field": "opt", "equal": "AdamWR"}, {"field": "epoch", "equal": 150}]}}],
       "mark": {"type": "point", "shape": "square", "color": "#000000", "filled": false, "strokeWidth": 1.2, "size": 70, "opacity": 1},
       "encoding": {"x": {"field": "epoch", "type": "quantitative", "axis": null}, "y": {"field": "err", "type": "quantitative", "axis": null}}
      },
      {
       "data": {"name": "imagenet"},
       "transform": [{"filter": {"and": [{"field": "opt", "equal": "SGDWR"}, {"field": "epoch", "equal": 150}]}}],
       "mark": {"type": "point", "shape": "triangle-up", "color": "#ff0000", "filled": false, "strokeWidth": 1.2, "size": 70, "opacity": 1},
       "encoding": {"x": {"field": "epoch", "type": "quantitative", "axis": null}, "y": {"field": "err", "type": "quantitative", "axis": null}}
      }
     ]
    }
   ],
   "resolve": {"scale": {"x": "independent", "y": "independent"}}
  }
 ],
 "spacing": 185,
 "resolve": {"scale": {"color": "independent"}},
 "config": {
  "font": "Liberation Sans",
  "view": {"stroke": "#000000", "strokeWidth": 1},
  "axis": {"labelFont": "Liberation Sans", "labelFontSize": 24, "labelColor": "black", "titleFont": "Liberation Sans", "titleFontSize": 30, "titleFontWeight": "normal", "titleColor": "black", "tickColor": "black", "tickSize": -8, "tickWidth": 1, "domain": false, "grid": false, "labelPadding": 20, "titlePadding": 9, "labelFlush": false, "labelOverlap": false},
  "axisY": {"labelPadding": 17, "titlePadding": 12},
  "legend": {"orient": "top-right", "offset": 12, "title": null, "padding": 6, "rowPadding": -4.5, "labelOffset": 68, "labelFont": "Liberation Sans", "labelFontSize": 25, "labelColor": "black", "symbolSize": 576, "symbolStrokeWidth": 3, "strokeColor": "black", "fillColor": "white"}
 }
}
